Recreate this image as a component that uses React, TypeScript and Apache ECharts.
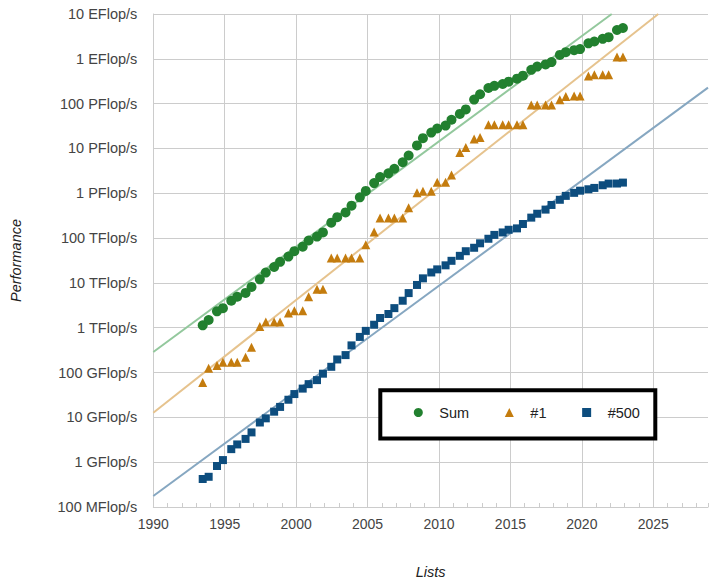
import React, { useEffect, useRef } from "react";
import * as echarts from "echarts";

// TOP500 list dates (year-month)
const lists = [
  "1993-06", "1993-11", "1994-06", "1994-11", "1995-06", "1995-11", "1996-06", "1996-11",
  "1997-06", "1997-11", "1998-06", "1998-11", "1999-06", "1999-11", "2000-06", "2000-11",
  "2001-06", "2001-11", "2002-06", "2002-11", "2003-06", "2003-11", "2004-06", "2004-11",
  "2005-06", "2005-11", "2006-06", "2006-11", "2007-06", "2007-11", "2008-06", "2008-11",
  "2009-06", "2009-11", "2010-06", "2010-11", "2011-06", "2011-11", "2012-06", "2012-11",
  "2013-06", "2013-11", "2014-06", "2014-11", "2015-06", "2015-11", "2016-06", "2016-11",
  "2017-06", "2017-11", "2018-06", "2018-11", "2019-06", "2019-11", "2020-06", "2020-11",
  "2021-06", "2021-11", "2022-06", "2022-11",
];

// Performance in GFlop/s
const sumGF = [
  1.13e3, 1.49e3, 2.32e3, 2.73e3, 3.99e3, 4.92e3, 5.99e3, 8.15e3,
  1.2e4, 1.7e4, 2.26e4, 2.95e4, 3.87e4, 5.1e4, 6.43e4, 8.82e4,
  1.08e5, 1.34e5, 2.21e5, 2.93e5, 3.74e5, 5.28e5, 8.13e5, 1.13e6,
  1.69e6, 2.3e6, 2.79e6, 3.53e6, 4.92e6, 6.97e6, 1.17e7, 1.7e7,
  2.26e7, 2.79e7, 3.24e7, 4.37e7, 5.89e7, 7.42e7, 1.23e8, 1.62e8,
  2.23e8, 2.5e8, 2.74e8, 3.09e8, 3.61e8, 4.2e8, 5.67e8, 6.72e8,
  7.49e8, 8.45e8, 1.22e9, 1.41e9, 1.56e9, 1.65e9, 2.22e9, 2.43e9,
  2.79e9, 3.04e9, 4.4e9, 4.86e9,
];

const firstGF = [
  59.7, 124, 143.4, 170, 170, 170, 220.4, 368.2,
  1068, 1338, 1338, 1338, 2121, 2379, 2379, 4938,
  7226, 7226, 3.586e4, 3.586e4, 3.586e4, 3.586e4, 3.586e4, 7.072e4,
  1.368e5, 2.806e5, 2.806e5, 2.806e5, 2.806e5, 4.782e5, 1.026e6, 1.105e6,
  1.105e6, 1.759e6, 1.759e6, 2.566e6, 8.162e6, 1.051e7, 1.632e7, 1.759e7,
  3.386e7, 3.386e7, 3.386e7, 3.386e7, 3.386e7, 3.386e7, 9.301e7, 9.301e7,
  9.301e7, 9.301e7, 1.223e8, 1.435e8, 1.486e8, 1.486e8, 4.155e8, 4.42e8,
  4.42e8, 4.42e8, 1.102e9, 1.102e9,
];

const lastGF = [
  0.422, 0.472, 0.822, 1.114, 1.955, 2.489, 3.306, 4.62,
  7.68, 9.51, 13.39, 17.1, 24.73, 33.1, 43.82, 55.1,
  67.78, 94.3, 134.3, 195.8, 245.1, 403.4, 624, 850.6,
  1166, 1646, 2026, 2737, 4005, 5929, 9000, 12640,
  17100, 20050, 24670, 31120, 40190, 50940, 60820, 76500,
  96620, 117800, 133700, 153400, 164700, 206300, 286100, 349300,
  432200, 548400, 715600, 874800, 1022000, 1142000, 1228000, 1317000,
  1511000, 1646000, 1650000, 1730000,
];

// Exponential trend lines: [year, Flop/s]
const sumTrend = [[1990, 2.88e11], [2022.09, 1e19]];
const firstTrend = [[1990, 1.27e10], [2025.35, 1e19]];
const lastTrend = [[1990, 1.76e8], [2028.83, 2.27e17]];

const yTickLabels = [
  "100 MFlop/s", "1 GFlop/s", "10 GFlop/s", "100 GFlop/s", "1 TFlop/s", "10 TFlop/s",
  "100 TFlop/s", "1 PFlop/s", "10 PFlop/s", "100 PFlop/s", "1 EFlop/s", "10 EFlop/s",
];

const FONT = "'Liberation Sans', Arial, sans-serif";

function listToYear(s: string) {
  const [y, m] = s.split("-").map(Number);
  return y + (m - 0.5) / 12;
}

export default function App() {
  const ref = useRef<HTMLDivElement>(null);
  useEffect(() => {
    document.body.style.margin = "0";
    const chart = echarts.init(ref.current!, null, { renderer: "svg" });
    const xs = lists.map(listToYear);
    const toPts = (arr: number[]) => arr.map((v, i) => [xs[i], Math.log10(v * 1e9)]);
    const trendPts = (arr: number[][]) => arr.map(([x, v]) => [x, Math.log10(v)]);
    const XMIN = 1990;
    const XMAX = 2028.83;

    chart.setOption({
      animation: false,
      textStyle: { fontFamily: FONT },
      grid: { left: 153.3, right: 8, top: 14, bottom: 81 },
      legend: {
        data: [
          { name: "Sum", icon: "circle" },
          { name: "#1", icon: "triangle" },
          { name: "#500", icon: "rect" },
        ],
        orient: "horizontal",
        left: 380.3,
        top: 390.3,
        itemWidth: 9,
        itemHeight: 9,
        itemGap: 35.7,
        padding: [14.7, 15.4, 18.5, 33.5],
        borderColor: "#000",
        borderWidth: 4,
        backgroundColor: "#fff",
        textStyle: { fontSize: 14.5, color: "#222", fontFamily: FONT, padding: [0, 0, 0, 11.5] },
      },
      xAxis: [
        {
          type: "value",
          min: XMIN,
          max: XMAX,
          interval: 5,
          name: "Lists",
          nameLocation: "middle",
          nameGap: 57,
          nameTextStyle: { fontStyle: "italic", fontSize: 14.5, color: "#222", fontFamily: FONT },
          axisLine: { show: true, onZero: false, lineStyle: { color: "#ccc", width: 1 } },
          axisTick: { show: false },
          axisLabel: {
            fontSize: 14,
            color: "#444",
            margin: 10,
            showMaxLabel: false,
            formatter: (v: number) => (Math.abs(v % 5) < 1e-6 ? String(Math.round(v)) : ""),
          },
          splitLine: { show: true, showMaxLine: false, lineStyle: { color: "#ccc", width: 1 } },
        },
        {
          type: "value",
          min: XMIN,
          max: XMAX,
          interval: 1,
          position: "bottom",
          axisLine: { show: false, onZero: false },
          axisTick: { show: true, inside: true, length: 4, lineStyle: { color: "#ccc", width: 1 } },
          axisLabel: { show: false },
          splitLine: { show: false },
        },
      ],
      yAxis: {
        type: "value",
        min: 8,
        max: 19,
        interval: 1,
        name: "Performance",
        nameLocation: "middle",
        nameGap: 130,
        nameTextStyle: { fontStyle: "italic", fontSize: 14.5, color: "#222", fontFamily: FONT },
        axisLine: { show: true, lineStyle: { color: "#ccc", width: 1 } },
        axisTick: { show: false },
        axisLabel: {
          fontSize: 14.5,
          color: "#444",
          margin: 16,
          formatter: (v: number) => yTickLabels[Math.round(v) - 8] ?? "",
        },
        splitLine: { show: true, lineStyle: { color: "#ccc", width: 1 } },
      },
      series: [
        {
          name: "Sum trend",
          type: "line",
          data: trendPts(sumTrend),
          symbol: "none",
          silent: true,
          clip: true,
          lineStyle: { color: "#93c89d", width: 2 },
          z: 1,
        },
        {
          name: "#1 trend",
          type: "line",
          data: trendPts(firstTrend),
          symbol: "none",
          silent: true,
          clip: true,
          lineStyle: { color: "#e6c38e", width: 2 },
          z: 1,
        },
        {
          name: "#500 trend",
          type: "line",
          data: trendPts(lastTrend),
          symbol: "none",
          silent: true,
          clip: true,
          lineStyle: { color: "#86a7c1", width: 2 },
          z: 1,
        },
        {
          name: "Sum",
          type: "scatter",
          data: toPts(sumGF),
          symbol: "circle",
          symbolSize: 10,
          itemStyle: { color: "#22802f", opacity: 1 },
          z: 3,
        },
        {
          name: "#1",
          type: "scatter",
          data: toPts(firstGF),
          symbol: "triangle",
          symbolSize: 9,
          itemStyle: { color: "#c47c0e", opacity: 1 },
          z: 3,
        },
        {
          name: "#500",
          type: "scatter",
          data: toPts(lastGF),
          symbol: "rect",
          symbolSize: 8,
          itemStyle: { color: "#0d4d7e", opacity: 1 },
          z: 3,
        },
      ],
    });
    return () => chart.dispose();
  }, []);
  return <div ref={ref} style={{ width: 716, height: 588 }} />;
}
